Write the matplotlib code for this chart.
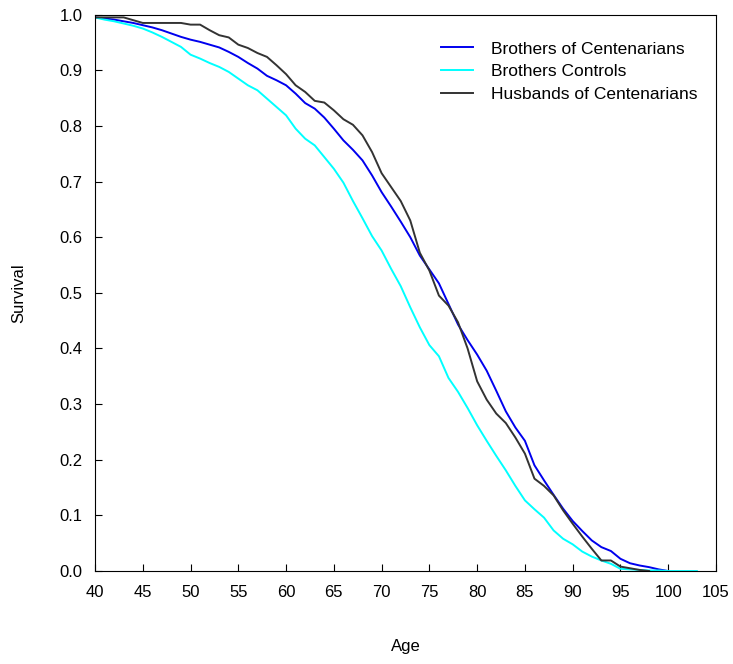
import numpy as np
import matplotlib
matplotlib.use("Agg")
import matplotlib.pyplot as plt

plt.rcParams['font.family'] = ['Liberation Sans', 'DejaVu Sans']

# Survival curves, one value per year of age
ages_bro = np.arange(40, 101)
surv_bro = [0.995, 0.993, 0.991, 0.988, 0.985, 0.981, 0.977, 0.972, 0.966, 0.960,
            0.955, 0.951, 0.946, 0.941, 0.933, 0.924, 0.913, 0.903, 0.890, 0.882,
            0.873, 0.858, 0.841, 0.831, 0.815, 0.795, 0.774, 0.757, 0.738, 0.711,
            0.681, 0.655, 0.628, 0.600, 0.567, 0.542, 0.517, 0.480, 0.443, 0.415,
            0.389, 0.360, 0.324, 0.287, 0.258, 0.234, 0.190, 0.163, 0.137, 0.112,
            0.090, 0.072, 0.055, 0.043, 0.036, 0.022, 0.014, 0.010, 0.007, 0.003,
            0.000]

ages_ctl = np.arange(40, 104)
surv_ctl = [0.995, 0.991, 0.988, 0.984, 0.980, 0.975, 0.968, 0.960, 0.951, 0.942,
            0.928, 0.921, 0.913, 0.906, 0.897, 0.885, 0.873, 0.864, 0.849, 0.834,
            0.819, 0.795, 0.777, 0.765, 0.744, 0.723, 0.698, 0.665, 0.634, 0.602,
            0.576, 0.543, 0.512, 0.474, 0.438, 0.406, 0.386, 0.347, 0.322, 0.293,
            0.262, 0.234, 0.207, 0.181, 0.153, 0.127, 0.111, 0.096, 0.073, 0.058,
            0.048, 0.035, 0.026, 0.019, 0.013, 0.004, 0.003, 0.002, 0.001, 0.001,
            0.000, 0.000, 0.000, 0.000]

ages_hus = np.arange(40, 99)
surv_hus = [0.995, 0.995, 0.995, 0.995, 0.990, 0.985, 0.985, 0.985, 0.985, 0.985,
            0.982, 0.982, 0.972, 0.963, 0.959, 0.946, 0.940, 0.931, 0.924, 0.909,
            0.893, 0.873, 0.861, 0.845, 0.842, 0.828, 0.812, 0.802, 0.783, 0.753,
            0.715, 0.690, 0.665, 0.630, 0.572, 0.540, 0.495, 0.477, 0.447, 0.400,
            0.341, 0.308, 0.283, 0.266, 0.240, 0.211, 0.166, 0.153, 0.136, 0.109,
            0.085, 0.062, 0.040, 0.019, 0.019, 0.008, 0.005, 0.002, 0.000]

fig = plt.figure(figsize=(7.33, 6.64), dpi=100)
ax = fig.add_axes([0.1296, 0.140, 0.8472, 0.838])

ax.plot(ages_bro, surv_bro, color="#0000EE", linewidth=1.4, label="Brothers of Centenarians")
ax.plot(ages_ctl, surv_ctl, color="#00FFFF", linewidth=1.4, label="Brothers Controls")
ax.plot(ages_hus, surv_hus, color="#333333", linewidth=1.4, label="Husbands of Centenarians")

ax.set_xlim(40, 105)
ax.set_ylim(0, 1.0)
ax.set_xticks(np.arange(40, 106, 5))
ax.set_yticks(np.arange(0, 1.01, 0.1))
ax.set_yticklabels([f"{v:.1f}" for v in np.arange(0, 1.01, 0.1)])
ax.tick_params(direction='in', length=5, labelsize=12)
ax.tick_params(axis='y', pad=9)
ax.tick_params(axis='x', pad=10)

ax.set_xlabel("Age", fontsize=12, labelpad=28)
ax.set_ylabel("Survival", fontsize=12, labelpad=24)

ax.legend(loc='upper right', bbox_to_anchor=(0.995, 0.98), frameon=False,
          fontsize=12.5, handlelength=1.85, handletextpad=1.0, labelspacing=0.45)

plt.savefig("out.png", dpi=100)
